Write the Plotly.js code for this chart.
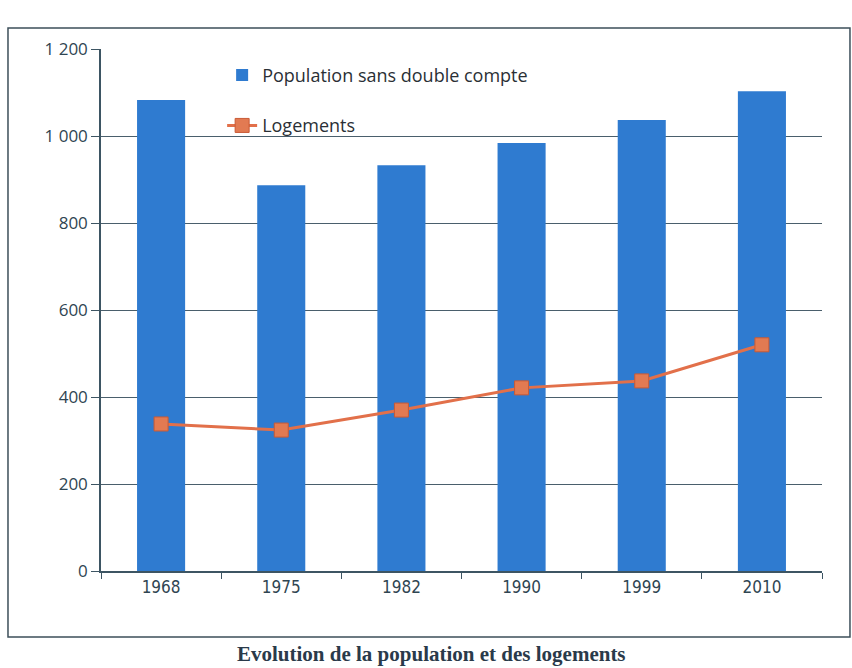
<!DOCTYPE html>
<html>
<head>
<meta charset="utf-8">
<script src="https://cdn.plot.ly/plotly-3.0.1.min.js"></script>
<style>body{margin:0;background:#fff}#chart{width:852px;height:668px}</style>
</head>
<body>
<div id="chart"></div>
<script>
const years = ["1968", "1975", "1982", "1990", "1999", "2010"];
const population = [1083, 887, 933, 984, 1037, 1103];
const logements = [338, 324, 370, 421, 437, 520];
const yTicks = [0, 200, 400, 600, 800, 1000, 1200];
const yTickLabels = ["0", "200", "400", "600", "800", "1 000", "1 200"];

const traces = [
  {
    type: "bar", x: years, y: population, name: "Population sans double compte",
    marker: {color: "#2f7bd0"}, width: 0.4, legendgroup: "a"
  },
  {
    type: "scatter", mode: "lines+markers", x: years, y: logements, name: "Logements",
    line: {color: "#e2704a", width: 3},
    marker: {symbol: "square", size: 14, color: "#e27a52", line: {color: "#c95a35", width: 1}},
    legendgroup: "b"
  }
];

const layout = {
  width: 852, height: 668,
  margin: {l: 101, r: 30, t: 49, b: 97},
  paper_bgcolor: "#ffffff", plot_bgcolor: "#ffffff",
  font: {family: "Open Sans, Noto Sans, sans-serif", color: "#2f4552", size: 16},
  showlegend: true,
  legend: {
    x: 0.168, y: 0.985, xanchor: "left", yanchor: "top",
    bgcolor: "rgba(0,0,0,0)", font: {size: 18, color: "#2a2f35"},
    traceorder: "grouped", tracegroupgap: 24
  },
  xaxis: {
    type: "category", showline: true, linecolor: "#3d5563", linewidth: 1.5,
    ticks: "outside", tickson: "boundaries", ticklen: 6, tickcolor: "#3d5563",
    showgrid: false, tickfont: {size: 17, color: "#2f4552", family: "DejaVu Sans Condensed, sans-serif"}
  },
  yaxis: {
    range: [0, 1200], tickvals: yTicks, ticktext: yTickLabels,
    showline: true, linecolor: "#3d5563", linewidth: 1.5,
    ticks: "outside", ticklen: 8, tickcolor: "#3d5563",
    showgrid: true, gridcolor: "#4a5f6c", gridwidth: 1.2, zeroline: false,
    tickfont: {size: 17, color: "#2f4552"}
  },
  shapes: [{
    type: "rect", xref: "paper", yref: "paper",
    x0: -0.129, x1: 1.0388, y0: -0.1264, y1: 1.0402,
    line: {color: "#3d4f5a", width: 1.5}
  }],
  annotations: [{
    xref: "paper", yref: "paper", x: 0.459, y: -0.1855,
    text: "<b>Evolution de la population et des logements</b>",
    showarrow: false, xanchor: "center", yanchor: "bottom",
    font: {family: "Liberation Serif, serif", size: 21, color: "#2a3a4a"}
  }]
};

Plotly.newPlot("chart", traces, layout, {displayModeBar: false});
</script>
</body>
</html>
